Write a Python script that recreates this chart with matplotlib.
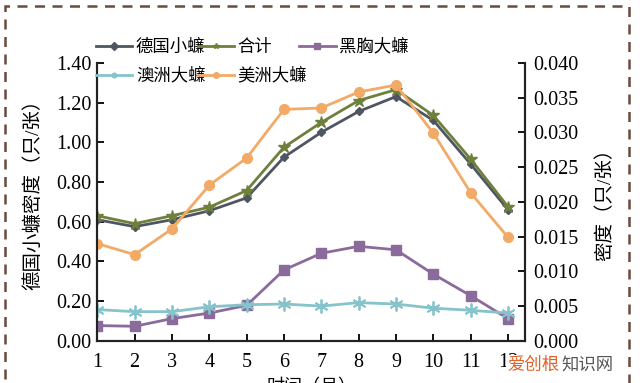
import matplotlib
matplotlib.use("Agg")
import matplotlib.pyplot as plt
from matplotlib.patches import Rectangle

plt.rcParams['font.family'] = ['Liberation Serif', 'Noto Sans CJK SC']

months = list(range(1, 13))
german = [0.61, 0.575, 0.61, 0.655, 0.72, 0.925, 1.05, 1.155, 1.23, 1.11, 0.89, 0.66]
total = [0.63, 0.59, 0.63, 0.673, 0.757, 0.975, 1.10, 1.21, 1.265, 1.135, 0.915, 0.675]
smokybrown = [0.0022, 0.0021, 0.0032, 0.0040, 0.0051, 0.0102, 0.0126, 0.0136, 0.0131, 0.0096, 0.0065, 0.0032]
australian = [0.0045, 0.0042, 0.0042, 0.0049, 0.0052, 0.0053, 0.0050, 0.0055, 0.0053, 0.0047, 0.0044, 0.0040]
american = [0.0140, 0.0124, 0.0161, 0.0224, 0.0263, 0.0333, 0.0335, 0.0358, 0.0368, 0.0299, 0.0213, 0.0149]
left_ticks = [0.00, 0.20, 0.40, 0.60, 0.80, 1.00, 1.20, 1.40]
right_ticks = [0.000, 0.005, 0.010, 0.015, 0.020, 0.025, 0.030, 0.035, 0.040]

fig = plt.figure(figsize=(6.4, 3.83), dpi=100)
ax = fig.add_axes([0.152, 0.110, 0.668, 0.726])
ax2 = ax.twinx()

c_ger = '#4d5661'
c_tot = '#6f7f3c'
c_pur = '#8b6b9c'
c_cya = '#86c3cb'
c_ora = '#f2aa66'

l1, = ax.plot(months, german, color=c_ger, marker='D', ms=4, lw=2, label='德国小蠊', zorder=3)
l2, = ax.plot(months, total, color=c_tot, marker='*', ms=9, lw=2, label='合计', zorder=4)
l3, = ax2.plot(months, smokybrown, color=c_pur, marker='s', ms=7, lw=2, label='黑胸大蠊')
l4, = ax2.plot(months, australian, color=c_cya, marker=(6, 2, 0), ms=10, mew=1.3, lw=2, label='澳洲大蠊')
l5, = ax2.plot(months, american, color=c_ora, marker='o', ms=7, lw=2, label='美洲大蠊')

ax.set_xlim(1, 12.45)
ax.set_ylim(0, 1.40)
ax2.set_ylim(0, 0.040)
ax.set_xticks(months)
ax.set_yticks(left_ticks)
ax.set_yticklabels([f'{v:.2f}' for v in left_ticks])
ax2.set_yticks(right_ticks)
ax2.set_yticklabels([f'{v:.3f}' for v in right_ticks])

for a in (ax, ax2):
    a.spines['top'].set_visible(False)
    for s in a.spines.values():
        s.set_linewidth(1.5)
        s.set_color('#222222')
    a.tick_params(direction='in', length=5, width=1.3, labelsize=14.5)
ax.tick_params(axis='y', pad=4)
ax2.tick_params(axis='y', pad=6)
ax.tick_params(axis='x', pad=9)

ax.set_ylabel('德国小蠊密度（只/张）', fontsize=14)
ax2.set_ylabel('密度（只/张）', fontsize=14)
ax.yaxis.set_label_coords(-0.128, 0.543)
ax2.yaxis.set_label_coords(1.165, 0.508)
ax.set_xlabel('时间（月）', fontsize=13, labelpad=5)

handles = [l1, l4, l2, l5, l3]
leg = fig.legend(handles=handles, ncol=3, loc='upper left',
                 bbox_to_anchor=(0.150, 0.898), frameon=False, fontsize=12.5,
                 handlelength=2.1, handletextpad=0.2, columnspacing=-0.45,
                 labelspacing=0.7, borderaxespad=0, borderpad=0)
for h in leg.legend_handles:
    h.set_markersize(4)

fig.patches.append(Rectangle((0.008, -0.05), 0.975, 1.035, transform=fig.transFigure,
                             fill=False, ls=(0, (4, 3)), lw=1.8, edgecolor='#6b4a40'))

fig.text(0.792, 0.047, '爱创根', color='#e0622a', fontsize=12.5, va='center',
         family=['Noto Sans CJK SC'], bbox=dict(facecolor='white', edgecolor='none', pad=0.5))
fig.text(0.792 + 0.085, 0.047, '知识网', color='#555555', fontsize=12.5, va='center',
         family=['Noto Sans CJK SC'])

fig.savefig('out.png', dpi=100)
